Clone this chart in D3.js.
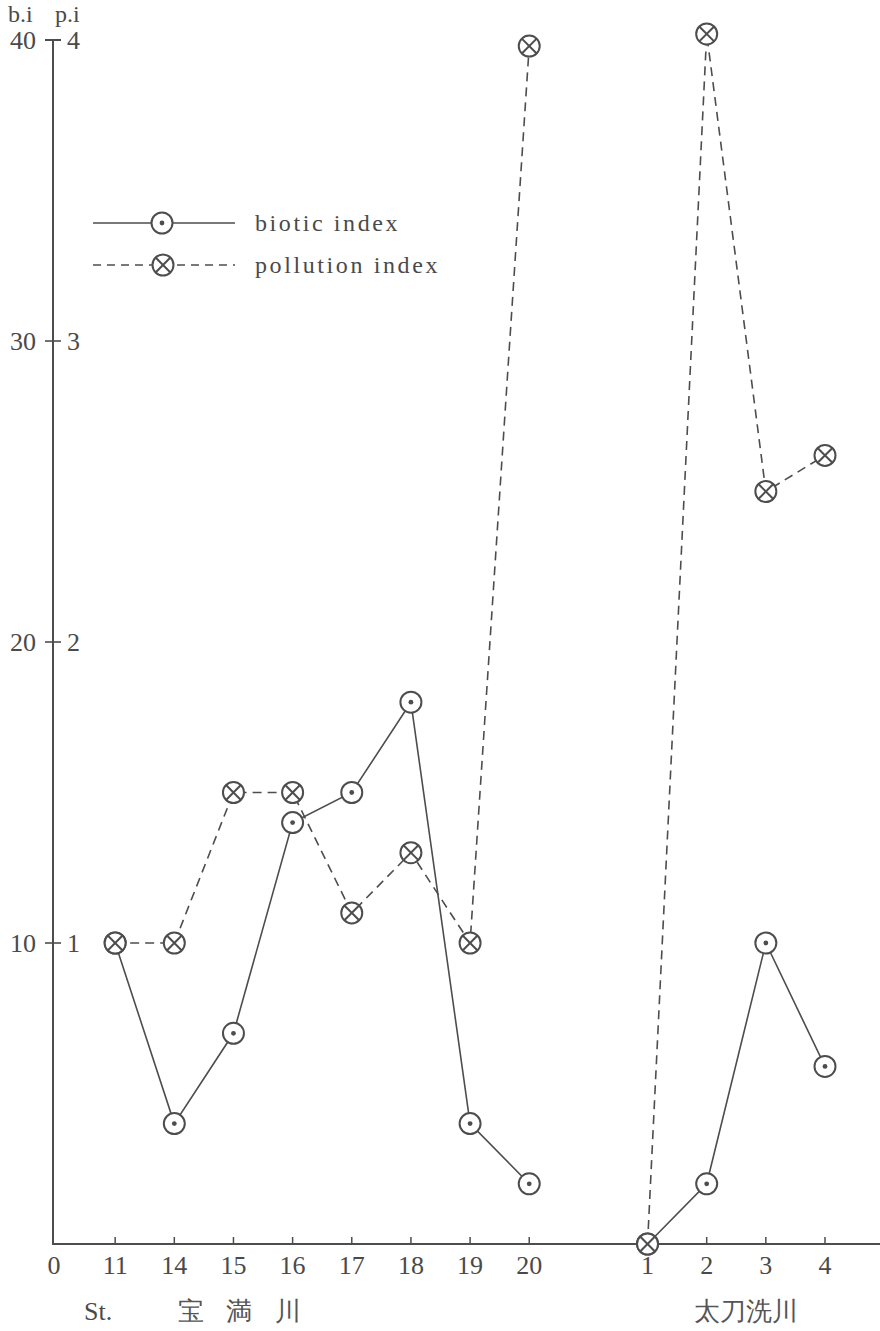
<!DOCTYPE html>
<html><head><meta charset="utf-8">
<script src="https://cdn.jsdelivr.net/npm/d3@7"></script>
<style>
body{margin:0;background:#fff;}
svg text{font-family:"Liberation Serif","DejaVu Serif",serif;fill:#4a4a4a;}
</style></head><body>
<svg id="c" width="880" height="1331"></svg>
<script>
const stations = ["11","14","15","16","17","18","19","20","1","2","3","4"];
const rivers = ["宝満川","宝満川","宝満川","宝満川","宝満川","宝満川","宝満川","宝満川","太刀洗川","太刀洗川","太刀洗川","太刀洗川"];
const bioticIndex = [10,4,7,14,15,18,4,2,0,2,10,5.9];
const pollutionIndex = [1.0,1.0,1.5,1.5,1.1,1.3,1.0,3.98,0,4.02,2.5,2.62];
const biTicks = [10,20,30,40];
const piTicks = [1,2,3,4];
const riverLabels = ["宝 満 川","太刀洗川"];
const legendLabels = ["biotic index","pollution index"];

const col = "#4d4d4d";
const SERIF = "'Liberation Serif','DejaVu Serif',serif";
const svg = d3.select("#c");

const keys = stations.map((s,i)=>rivers[i]+"-"+s);
const domain = ["origin"];
keys.forEach((k,i)=>{ if(i>0 && rivers[i]!==rivers[i-1]) domain.push("gap"); domain.push(k); });
const x = d3.scalePoint().domain(domain).range([56,825]);
const yb = d3.scaleLinear().domain([0,40]).range([1244,40]);
const yp = d3.scaleLinear().domain([0,4]).range([1244,40]);
const x0 = x("origin");

function txt(sel,xx,yy,s,size,anchor){
  return sel.append("text").attr("x",xx).attr("y",yy).attr("font-family",SERIF)
    .attr("font-size",size).attr("text-anchor",anchor||"start").text(s);
}

const g = svg.append("g");
g.append("line").attr("x1",x0-4).attr("x2",880).attr("y1",yb(0)).attr("y2",yb(0)).attr("stroke",col).attr("stroke-width",2);
g.append("line").attr("x1",x0-3).attr("x2",x0-3).attr("y1",yb(40)).attr("y2",yb(0)).attr("stroke",col).attr("stroke-width",2);
biTicks.forEach((t,i)=>{
  const yy = yb(t);
  g.append("line").attr("x1",x0-11).attr("x2",x0+5).attr("y1",yy).attr("y2",yy).attr("stroke",col).attr("stroke-width",t===40?2:1.6);
  txt(g,x0-20,yy+9,t,26,"end");
  txt(g,x0+11,yy+9,piTicks[i],26,"start");
});
txt(g,8,22,"b.i",24);
txt(g,55,22,"p.i",24);

txt(g,x0-2,1274,"0",26,"middle");
keys.forEach((k,i)=>{
  const xx = x(k);
  g.append("line").attr("x1",xx).attr("x2",xx).attr("y1",yb(0)).attr("y2",yb(0)-7).attr("stroke",col).attr("stroke-width",1.5);
  txt(g,xx,1274,stations[i],26,"middle");
});
txt(g,84,1320,"St.",26);
const uniqRivers = [...new Set(rivers)];
uniqRivers.forEach((r,j)=>{
  const idx = rivers.map((v,i)=>v===r?i:-1).filter(i=>i>=0);
  const cx = j===0 ? 243 : (x(keys[idx[0]])+x(keys[idx[idx.length-1]]))/2 + 10;
  g.append("text").attr("x",cx).attr("y",1320).attr("text-anchor","middle")
   .attr("font-family","'Noto Sans CJK JP',sans-serif").attr("font-weight",300)
   .attr("font-size",26).attr("letter-spacing",j===0?"8px":"0px").style("fill","#555").text(riverLabels[j]);
});

const R = 10.5;
const linePi = d3.line().x(i=>x(keys[i])).y(i=>yp(pollutionIndex[i]));
const lineBi = d3.line().x(i=>x(keys[i])).y(i=>yb(bioticIndex[i]));
const groups = uniqRivers.map(r=>d3.range(stations.length).filter(i=>rivers[i]===r));
groups.forEach(p=>{
  svg.append("path").attr("d",linePi(p)).attr("fill","none").attr("stroke",col).attr("stroke-width",1.6).attr("stroke-dasharray","9,6");
  svg.append("path").attr("d",lineBi(p)).attr("fill","none").attr("stroke",col).attr("stroke-width",1.6);
});

function crossMarker(sel,cx,cy){
  const m = sel.append("g").attr("transform",`translate(${cx},${cy})`);
  m.append("circle").attr("r",R).attr("fill","#fff").attr("stroke",col).attr("stroke-width",2);
  const d = R*0.707;
  m.append("line").attr("x1",-d).attr("y1",-d).attr("x2",d).attr("y2",d).attr("stroke",col).attr("stroke-width",2);
  m.append("line").attr("x1",-d).attr("y1",d).attr("x2",d).attr("y2",-d).attr("stroke",col).attr("stroke-width",2);
}
function dotMarker(sel,cx,cy){
  const m = sel.append("g").attr("transform",`translate(${cx},${cy})`);
  m.append("circle").attr("r",R).attr("fill","#fff").attr("stroke",col).attr("stroke-width",2);
  m.append("circle").attr("r",2.4).attr("fill",col);
}
const mk = svg.append("g");
stations.forEach((s,i)=>dotMarker(mk,x(keys[i]),yb(bioticIndex[i])));
stations.forEach((s,i)=>crossMarker(mk,x(keys[i]),yp(pollutionIndex[i])));

const lg = svg.append("g");
lg.append("line").attr("x1",93).attr("x2",235).attr("y1",223).attr("y2",223).attr("stroke",col).attr("stroke-width",1.6);
dotMarker(lg,162,223);
lg.append("line").attr("x1",93).attr("x2",235).attr("y1",265).attr("y2",265).attr("stroke",col).attr("stroke-width",1.6).attr("stroke-dasharray","8,6");
crossMarker(lg,163,265);
txt(lg,255,231,legendLabels[0],24).attr("letter-spacing","2.6px");
txt(lg,255,273,legendLabels[1],24).attr("letter-spacing","2.6px");
</script></body></html>
